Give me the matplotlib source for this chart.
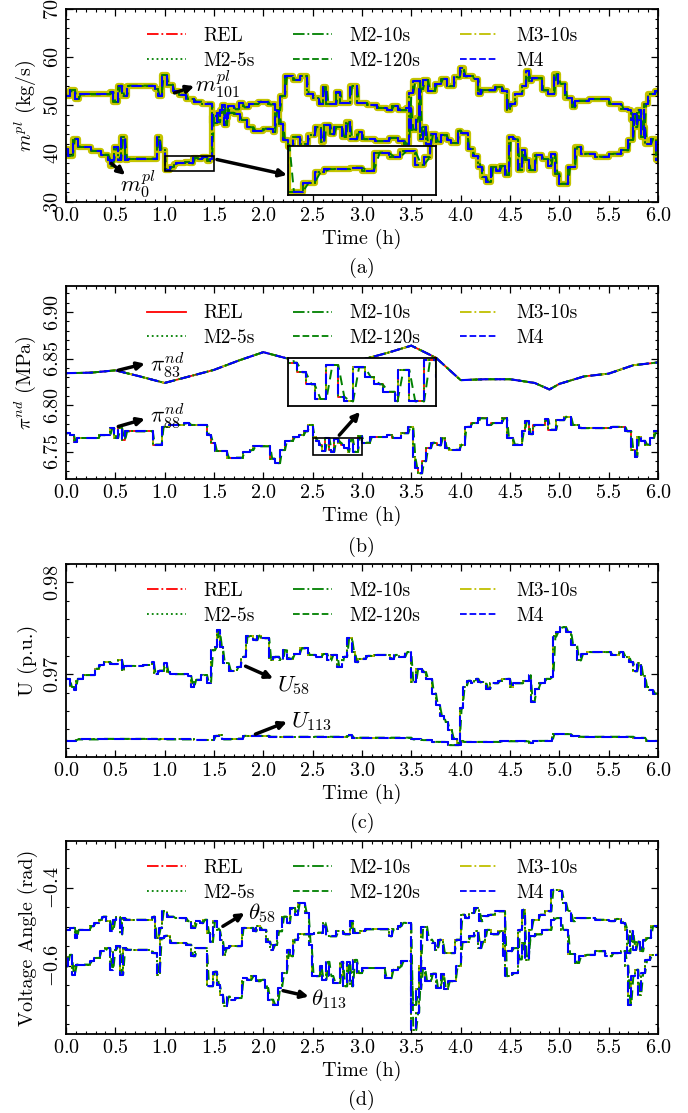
import numpy as np
import matplotlib
matplotlib.use('Agg')
import matplotlib.pyplot as plt
from matplotlib.lines import Line2D
from matplotlib.patches import Rectangle
from matplotlib.ticker import MultipleLocator

plt.rcParams['font.family'] = 'cmr10'
plt.rcParams['mathtext.fontset'] = 'cm'
plt.rcParams['axes.formatter.use_mathtext'] = True
plt.rcParams['axes.unicode_minus'] = True
plt.rcParams['font.size'] = 14.5

FS = 14.5   # axis text
FL = 14     # legend
FA = 16.5   # curve tags

# ---- data: (time h, value) breakpoints ----
m101 = [(0, 52.0), (0.04, 53.2), (0.09, 51.4), (0.13, 52.3), (0.45, 52.8), (0.48, 50.7),
        (0.53, 54.1), (0.57, 52.0), (0.62, 54.1), (0.9, 53.4), (0.93, 52.0), (0.97, 56.3),
        (1.02, 54.3), (1.08, 53.0), (1.15, 52.2), (1.22, 51.3), (1.3, 50.8), (1.38, 50.4),
        (1.48, 46.3), (1.53, 48.5), (1.58, 50.0), (1.61, 47.5), (1.64, 49.8), (1.7, 49.2),
        (1.75, 50.5), (1.79, 49.6), (1.85, 50.3), (1.95, 50.8), (2.05, 50.2), (2.12, 49.0),
        (2.17, 52.0), (2.22, 56.0), (2.3, 55.3), (2.37, 56.0), (2.44, 52.4), (2.5, 51.5),
        (2.56, 50.3), (2.6, 53.8), (2.64, 50.3), (2.74, 52.8), (2.78, 50.5), (2.88, 54.0),
        (2.95, 50.5), (3.05, 50.0), (3.15, 49.5), (3.25, 49.0), (3.3, 49.8), (3.37, 49.0),
        (3.45, 49.5), (3.5, 45.0), (3.55, 47.5), (3.58, 53.5), (3.62, 55.3), (3.67, 53.0),
        (3.74, 54.5), (3.8, 55.5), (3.86, 54.0), (3.93, 55.8), (3.99, 57.8), (4.03, 56.0),
        (4.12, 55.5), (4.18, 52.4), (4.21, 53.1), (4.35, 53.8), (4.42, 53.0), (4.47, 49.0),
        (4.5, 50.3), (4.55, 52.4), (4.62, 54.0), (4.66, 57.2), (4.69, 55.0), (4.72, 55.6),
        (4.82, 53.1), (4.89, 52.4), (4.95, 56.5), (4.99, 54.5), (5.06, 51.5), (5.13, 49.6),
        (5.16, 51.0), (5.3, 51.3), (5.5, 50.3), (5.63, 49.3), (5.7, 49.0), (5.73, 47.0),
        (5.76, 45.5), (5.79, 49.0), (5.83, 43.5), (5.86, 50.3), (5.9, 52.4), (5.97, 53.0)]
m0 = [(0, 41.0), (0.02, 39.6), (0.07, 43.1), (0.12, 41.4), (0.25, 40.6), (0.35, 39.8),
      (0.43, 38.7), (0.45, 37.5), (0.47, 38.7), (0.49, 41.4), (0.53, 38.7), (0.56, 43.5),
      (0.6, 38.7), (0.63, 39.0), (0.92, 43.5), (0.95, 40.7), (1.0, 36.6), (1.05, 37.2),
      (1.09, 37.9), (1.12, 38.1), (1.21, 38.2), (1.25, 38.0), (1.29, 39.2), (1.34, 38.9),
      (1.38, 39.3), (1.43, 38.4), (1.46, 38.9), (1.48, 47.9), (1.53, 46.5), (1.56, 49.0),
      (1.6, 46.0), (1.63, 48.5), (1.7, 48.3), (1.76, 47.0), (1.83, 45.5), (1.9, 44.8),
      (2.0, 45.2), (2.1, 44.5), (2.12, 48.8), (2.16, 46.2), (2.2, 42.8), (2.25, 41.4),
      (2.3, 43.5), (2.37, 42.0), (2.45, 43.8), (2.52, 45.5), (2.58, 42.5), (2.62, 46.0),
      (2.68, 44.0), (2.72, 45.5), (2.8, 43.5), (2.84, 46.5), (2.88, 43.0), (2.95, 44.5),
      (3.0, 43.0), (3.13, 42.6), (3.27, 43.3), (3.37, 42.7), (3.43, 42.1), (3.48, 52.5),
      (3.52, 55.0), (3.59, 43.0), (3.62, 45.5), (3.65, 42.0), (3.7, 44.0), (3.75, 42.5),
      (3.8, 43.8), (3.86, 42.8), (3.9, 42.2), (3.97, 44.8), (4.0, 44.2), (4.07, 41.0),
      (4.12, 39.5), (4.18, 37.3), (4.22, 35.2), (4.26, 34.2), (4.31, 37.3), (4.36, 36.5),
      (4.4, 37.5), (4.45, 35.6), (4.49, 43.5), (4.53, 43.0), (4.58, 36.6), (4.62, 40.7),
      (4.65, 38.7), (4.69, 36.6), (4.75, 39.8), (4.82, 38.9), (4.89, 37.5), (4.92, 40.0),
      (4.96, 35.9), (5.0, 33.8), (5.09, 37.3), (5.16, 41.4), (5.22, 40.0), (5.36, 39.4),
      (5.5, 40.0), (5.63, 40.7), (5.7, 42.8), (5.75, 48.3), (5.8, 47.0), (5.83, 45.5),
      (5.87, 42.0), (5.93, 43.0), (5.98, 38.7)]

pi83 = [(0, 6.8345), (0.25, 6.835), (0.5, 6.8375), (0.75, 6.831), (1.0, 6.824), (1.25, 6.831),
        (1.5, 6.838), (1.75, 6.848), (2.0, 6.857), (2.25, 6.850), (2.5, 6.846), (2.75, 6.845),
        (3.0, 6.849), (3.25, 6.856), (3.5, 6.864), (3.75, 6.851), (4.0, 6.827), (4.25, 6.828),
        (4.5, 6.828), (4.75, 6.824), (4.9, 6.817), (5.0, 6.823), (5.25, 6.831), (5.5, 6.834),
        (5.75, 6.843), (6.0, 6.846)]
pi88 = [(0, 6.770), (0.04, 6.768), (0.08, 6.761), (0.11, 6.765), (0.33, 6.768), (0.45, 6.7755),
        (0.49, 6.765), (0.53, 6.7755), (0.57, 6.763), (0.6, 6.772), (0.88, 6.758), (0.97, 6.777),
        (1.04, 6.779), (1.2, 6.781), (1.25, 6.779), (1.43, 6.768), (1.47, 6.760), (1.51, 6.751),
        (1.63, 6.744), (1.79, 6.750), (1.86, 6.752), (1.9, 6.756), (2.07, 6.743), (2.12, 6.738),
        (2.17, 6.752), (2.22, 6.762), (2.3, 6.766), (2.36, 6.768), (2.41, 6.772), (2.45, 6.779),
        (2.5, 6.766), (2.53, 6.762), (2.56, 6.757), (2.59, 6.751), (2.63, 6.765), (2.67, 6.752),
        (2.69, 6.750), (2.72, 6.764), (2.76, 6.760), (2.79, 6.757), (2.82, 6.754), (2.86, 6.750),
        (2.87, 6.763), (2.91, 6.750), (2.96, 6.767), (3.0, 6.760), (3.08, 6.766), (3.25, 6.768),
        (3.3, 6.765), (3.4, 6.770), (3.47, 6.777), (3.52, 6.745), (3.54, 6.733), (3.57, 6.727),
        (3.61, 6.740), (3.65, 6.754), (3.7, 6.760), (3.76, 6.757), (3.8, 6.765), (3.84, 6.754),
        (3.88, 6.7525), (3.99, 6.758), (4.04, 6.777), (4.1, 6.781), (4.18, 6.786), (4.27, 6.779),
        (4.31, 6.781), (4.42, 6.786), (4.47, 6.765), (4.53, 6.758), (4.62, 6.772), (4.65, 6.783),
        (4.69, 6.769), (4.73, 6.779), (4.85, 6.785), (4.89, 6.774), (4.97, 6.784), (5.05, 6.788),
        (5.12, 6.779), (5.2, 6.7755), (5.52, 6.777), (5.67, 6.772), (5.73, 6.752), (5.77, 6.745),
        (5.79, 6.766), (5.83, 6.762), (5.87, 6.758), (5.92, 6.765), (5.96, 6.772)]

u58 = [(0, 0.9695), (0.04, 0.9686), (0.08, 0.9683), (0.1, 0.9695), (0.17, 0.9699), (0.29, 0.9706),
       (0.33, 0.9710), (0.39, 0.9713), (0.45, 0.9711), (0.53, 0.9715), (0.57, 0.9704), (0.59, 0.9709),
       (0.78, 0.9710), (0.87, 0.9713), (0.89, 0.9700), (0.93, 0.9704), (0.99, 0.9712), (1.02, 0.9702),
       (1.05, 0.9700), (1.24, 0.9698), (1.27, 0.9686), (1.3, 0.9694), (1.37, 0.9699), (1.43, 0.9690),
       (1.47, 0.9726), (1.51, 0.9730), (1.53, 0.9748), (1.56, 0.9730), (1.59, 0.9712), (1.65, 0.9704),
       (1.73, 0.9708), (1.77, 0.9719), (1.82, 0.9741), (1.9, 0.9737), (1.94, 0.9742), (1.98, 0.9739),
       (2.06, 0.9715), (2.1, 0.9719), (2.16, 0.9715), (2.2, 0.9726), (2.24, 0.9717), (2.3, 0.9722),
       (2.37, 0.9728), (2.45, 0.9721), (2.53, 0.9719), (2.59, 0.9722), (2.65, 0.9715), (2.69, 0.9721),
       (2.75, 0.9708), (2.8, 0.9719), (2.85, 0.9739), (2.9, 0.9724), (2.93, 0.9713), (2.96, 0.9717),
       (3.04, 0.9720), (3.12, 0.9721), (3.28, 0.9717), (3.32, 0.9721), (3.38, 0.9719), (3.44, 0.9724),
       (3.5, 0.9692), (3.55, 0.9706), (3.61, 0.9702), (3.65, 0.9695), (3.71, 0.9679), (3.75, 0.9666),
       (3.79, 0.9655), (3.83, 0.9648), (3.87, 0.9639), (3.91, 0.9630), (3.96, 0.9625), (3.99, 0.9663),
       (4.02, 0.9686), (4.06, 0.9693), (4.1, 0.9690), (4.14, 0.9695), (4.18, 0.9691), (4.26, 0.9684),
       (4.3, 0.9690), (4.38, 0.9693), (4.42, 0.9695), (4.5, 0.9686), (4.53, 0.9690), (4.63, 0.9693),
       (4.69, 0.9699), (4.71, 0.9670), (4.75, 0.9684), (4.79, 0.9690), (4.85, 0.9695), (4.91, 0.9697),
       (4.94, 0.9741), (4.97, 0.9746), (5.01, 0.9751), (5.07, 0.9746), (5.12, 0.9732), (5.18, 0.9715),
       (5.22, 0.9722), (5.28, 0.9724), (5.52, 0.9721), (5.6, 0.9724), (5.65, 0.9719), (5.71, 0.9713),
       (5.75, 0.9703), (5.79, 0.9712), (5.83, 0.9698), (5.87, 0.9686), (5.91, 0.9683), (5.95, 0.9679)]
u113 = [(0, 0.96275), (0.1, 0.9629), (0.37, 0.96297), (0.92, 0.9629), (1.3, 0.96285), (1.5, 0.9633),
        (1.55, 0.9634), (1.58, 0.9629), (1.67, 0.9630), (1.79, 0.9633), (2.06, 0.9632), (2.85, 0.96335),
        (2.9, 0.9631), (3.5, 0.9629), (3.6, 0.96283), (3.71, 0.96264), (3.87, 0.96228), (4.0, 0.96275),
        (4.02, 0.96264), (4.4, 0.9627), (4.69, 0.96254), (4.73, 0.96275), (4.93, 0.96348),
        (5.12, 0.96326), (5.2, 0.9632), (5.75, 0.96308), (5.87, 0.96275)]

th58 = [(0, -0.508), (0.04, -0.503), (0.09, -0.529), (0.11, -0.508), (0.24, -0.499), (0.28, -0.491),
        (0.33, -0.482), (0.36, -0.474), (0.41, -0.486), (0.45, -0.512), (0.48, -0.482), (0.51, -0.474),
        (0.55, -0.52), (0.57, -0.478), (0.6, -0.482), (0.87, -0.474), (0.9, -0.529), (0.94, -0.503),
        (0.97, -0.461), (1.02, -0.474), (1.09, -0.478), (1.22, -0.486), (1.27, -0.503), (1.31, -0.486),
        (1.36, -0.491), (1.39, -0.482), (1.43, -0.516), (1.46, -0.538), (1.49, -0.486), (1.53, -0.508),
        (1.56, -0.533), (1.59, -0.572), (1.61, -0.555), (1.65, -0.55), (1.78, -0.503), (1.9, -0.512),
        (1.93, -0.499), (1.97, -0.508), (2.03, -0.538), (2.07, -0.559), (2.1, -0.546), (2.14, -0.512),
        (2.19, -0.474), (2.24, -0.491), (2.27, -0.452), (2.32, -0.469), (2.35, -0.439), (2.42, -0.465),
        (2.46, -0.546), (2.49, -0.627), (2.57, -0.60), (2.59, -0.636), (2.64, -0.59), (2.67, -0.627),
        (2.71, -0.644), (2.78, -0.59), (2.81, -0.653), (2.85, -0.59), (2.88, -0.653), (2.91, -0.585),
        (2.95, -0.619), (3.0, -0.606), (3.23, -0.632), (3.3, -0.61), (3.37, -0.602), (3.4, -0.589),
        (3.5, -0.70), (3.55, -0.66), (3.6, -0.605), (3.64, -0.64), (3.7, -0.62), (3.75, -0.657),
        (3.8, -0.62), (3.83, -0.66), (3.87, -0.64), (3.95, -0.60), (4.0, -0.54), (4.04, -0.538),
        (4.08, -0.525), (4.14, -0.512), (4.18, -0.555), (4.21, -0.538), (4.25, -0.508), (4.31, -0.52),
        (4.38, -0.512), (4.43, -0.576), (4.45, -0.563), (4.52, -0.555), (4.58, -0.584), (4.62, -0.542),
        (4.65, -0.576), (4.69, -0.525), (4.75, -0.52), (4.82, -0.508), (4.92, -0.482), (4.95, -0.478),
        (5.02, -0.508), (5.09, -0.57), (5.16, -0.593), (5.2, -0.576), (5.26, -0.572), (5.36, -0.563),
        (5.46, -0.576), (5.53, -0.568), (5.63, -0.563), (5.67, -0.60), (5.7, -0.70), (5.73, -0.627),
        (5.77, -0.61), (5.8, -0.674), (5.83, -0.619), (5.87, -0.585), (5.92, -0.572)]
th113 = [(0, -0.602), (0.02, -0.572), (0.06, -0.623), (0.09, -0.597), (0.24, -0.589), (0.28, -0.58),
         (0.34, -0.563), (0.4, -0.555), (0.45, -0.61), (0.48, -0.559), (0.51, -0.55), (0.55, -0.623),
         (0.58, -0.555), (0.61, -0.559), (0.87, -0.568), (0.92, -0.623), (0.95, -0.53), (0.99, -0.523),
         (1.05, -0.542), (1.22, -0.546), (1.27, -0.576), (1.31, -0.555), (1.43, -0.653), (1.49, -0.615),
         (1.53, -0.649), (1.56, -0.674), (1.59, -0.704), (1.63, -0.679), (1.66, -0.687), (1.71, -0.683),
         (1.78, -0.632), (1.83, -0.636), (1.88, -0.627), (1.93, -0.64), (1.97, -0.636), (2.02, -0.657),
         (2.05, -0.687), (2.1, -0.70), (2.15, -0.657), (2.19, -0.619), (2.24, -0.559), (2.27, -0.576),
         (2.3, -0.533), (2.35, -0.52), (2.51, -0.515), (2.6, -0.49), (2.63, -0.5), (2.64, -0.525),
         (2.74, -0.512), (2.81, -0.52), (2.88, -0.486), (2.91, -0.516), (2.98, -0.512), (3.03, -0.507),
         (3.27, -0.525), (3.3, -0.507), (3.37, -0.499), (3.4, -0.49), (3.5, -0.765), (3.55, -0.72),
         (3.58, -0.60), (3.6, -0.50), (3.66, -0.533), (3.71, -0.542), (3.74, -0.559), (3.77, -0.533),
         (3.82, -0.568), (3.94, -0.533), (4.0, -0.469), (4.04, -0.478), (4.08, -0.465), (4.14, -0.452),
         (4.19, -0.486), (4.22, -0.473), (4.28, -0.469), (4.35, -0.461), (4.45, -0.627), (4.52, -0.619),
         (4.58, -0.508), (4.62, -0.456), (4.65, -0.585), (4.69, -0.508), (4.72, -0.482), (4.79, -0.469),
         (4.85, -0.461), (4.92, -0.405), (5.0, -0.409), (5.03, -0.439), (5.07, -0.461), (5.12, -0.486),
         (5.16, -0.478), (5.36, -0.482), (5.5, -0.486), (5.56, -0.48), (5.63, -0.491), (5.67, -0.508),
         (5.69, -0.568), (5.72, -0.512), (5.75, -0.559), (5.78, -0.538), (5.82, -0.563), (5.85, -0.533),
         (5.88, -0.529), (5.93, -0.499)]

labels = ['REL', 'M2-5s', 'M2-10s', 'M2-120s', 'M3-10s', 'M4']
T_END = 6.0
LAG = 0.02  # 120 s sample hold shows as a short ramp


def series(pts, smooth=False):
    t = [p[0] for p in pts]
    v = [p[1] for p in pts]
    if not smooth:
        t = t + [T_END]
        v = v + [v[-1]]
    return np.array(t), np.array(v)


def lagged(t, v):
    xs, ys = [t[0]], [v[0]]
    for i in range(1, len(t)):
        nxt = t[i + 1] if i + 1 < len(t) else T_END
        xs += [t[i], min(t[i] + LAG, nxt)]
        ys += [v[i - 1], v[i]]
    return xs, ys


def draw(ax, pts, rel_ls='-.', band=False, smooth=False):
    t, v = series(pts, smooth)
    ds = 'default' if smooth else 'steps-post'
    if band:
        ax.plot(t, v, color='#c4c400', lw=4.5, drawstyle=ds, zorder=1)
    else:
        ax.plot(t, v, color='y', ls='-.', lw=1.3, drawstyle=ds, zorder=2.2)
    ax.plot(t, v, color='r', ls=rel_ls, lw=1.3, drawstyle=ds, zorder=2)
    ax.plot(t, v, color='g', ls='-.', lw=1.3, drawstyle=ds, zorder=2.1)
    ax.plot(t, v, color='g', ls=':', lw=1.3, drawstyle=ds, zorder=2.3)
    if smooth:
        ax.plot(t, v, color='g', ls=(4, (5, 3)), lw=1.4, zorder=2.4)
    else:
        xs, ys = lagged(t, v)
        ax.plot(xs, ys, color='g', ls=(4, (5, 3)), lw=1.4, zorder=2.4)
    ax.plot(t, v, color='b', ls=(0, (5, 3)), lw=1.5, drawstyle=ds, zorder=2.5)


def legend(ax, rel_ls='-.'):
    handles = [Line2D([], [], color='r', ls=rel_ls, lw=1.3),
               Line2D([], [], color='g', ls=':', lw=1.3),
               Line2D([], [], color='g', ls='-.', lw=1.3),
               Line2D([], [], color='g', ls='--', lw=1.3),
               Line2D([], [], color='y', ls='-.', lw=1.3),
               Line2D([], [], color='b', ls='--', lw=1.3)]
    ax.legend(handles, labels, ncol=3, loc='upper center', frameon=False,
              handlelength=2.0, handletextpad=0.9, columnspacing=2.0,
              labelspacing=0.35, borderaxespad=0.55, fontsize=FL)


def style(ax, ylim, major, minor, ylabel):
    ax.set_xlim(0, 6)
    ax.set_ylim(*ylim)
    ax.xaxis.set_major_locator(MultipleLocator(0.5))
    ax.xaxis.set_minor_locator(MultipleLocator(0.1))
    ax.yaxis.set_major_locator(MultipleLocator(major))
    ax.yaxis.set_minor_locator(MultipleLocator(minor))
    ax.yaxis.get_major_formatter().set_useOffset(False)
    ax.tick_params(which='both', direction='in', top=True, right=True, labelsize=FS)
    ax.tick_params(which='major', length=5, width=0.9)
    ax.tick_params(which='minor', length=2.5, width=0.8)
    ax.tick_params(axis='y', labelrotation=90, pad=3)
    for lab in ax.get_yticklabels():
        lab.set_va('center')
    for s in ax.spines.values():
        s.set_linewidth(1.3)
    ax.set_xlabel('Time (h)', fontsize=FS, labelpad=3)
    ax.set_ylabel(ylabel, fontsize=FS, labelpad=4)


def arrow(ax, tail, head):
    ax.annotate('', xy=head, xytext=tail, zorder=8,
                arrowprops=dict(arrowstyle='-|>', color='k', lw=2.5,
                                mutation_scale=11, shrinkA=0, shrinkB=0))


def inset(ax, bounds, xlim, ylim, curves, **kw):
    ins = ax.inset_axes(bounds, transform=ax.transData, zorder=6)
    ins.set_facecolor('white')
    for pts in curves:
        draw(ins, pts, **kw)
    ins.set_xlim(*xlim)
    ins.set_ylim(*ylim)
    ins.set_xticks([])
    ins.set_yticks([])
    for s in ins.spines.values():
        s.set_linewidth(1.3)
    return ins


fig = plt.figure(figsize=(6.88, 11.13), dpi=100)
L, W, H = 0.0959, 0.8605, 0.1735
axa = fig.add_axes([L, 0.8185, W, H])
axb = fig.add_axes([L, 0.5696, W, H])
axc = fig.add_axes([L, 0.3199, W, H])
axd = fig.add_axes([L, 0.0710, W, H])

# (a) pipeline mass flow
for pts in (m101, m0):
    draw(axa, pts, band=True)
style(axa, (30, 70), 10, 2, r'$m^{pl}$ (kg/s)')
legend(axa)
axa.add_patch(Rectangle((1.0, 36.5), 0.5, 3.0, fill=False, ec='k', lw=1.2, zorder=7))
inset(axa, [2.25, 31.5, 1.5, 10.0], (1.0, 1.5), (36.4, 39.6), [m0, m101], band=True)
arrow(axa, (1.53, 38.8), (2.24, 35.6))
arrow(axa, (1.1, 52.6), (1.3, 54.0))
axa.text(1.31, 54.4, r'$m_{101}^{pl}$', fontsize=FA, va='center', zorder=8)
arrow(axa, (0.46, 38.0), (0.6, 35.6))
axa.text(0.55, 33.6, r'$m_{0}^{pl}$', fontsize=FA, va='center', zorder=8)

# (b) nodal pressure
draw(axb, pi83, rel_ls='-', smooth=True)
draw(axb, pi88, rel_ls='-')
style(axb, (6.721, 6.928), 0.05, 0.01, r'$\pi^{nd}$ (MPa)')
legend(axb, rel_ls='-')
axb.add_patch(Rectangle((2.5, 6.747), 0.5, 0.018, fill=False, ec='k', lw=1.2, zorder=7))
inset(axb, [2.25, 6.799, 1.5, 0.052], (2.5, 3.0), (6.748, 6.768), [pi88], rel_ls='-')
arrow(axb, (2.77, 6.768), (2.98, 6.793))
arrow(axb, (0.53, 6.8376), (0.80, 6.8447))
axb.text(0.85, 6.8436, r'$\pi_{83}^{nd}$', fontsize=FA, va='center', zorder=8)
arrow(axb, (0.53, 6.7773), (0.80, 6.7855))
axb.text(0.85, 6.788, r'$\pi_{88}^{nd}$', fontsize=FA, va='center', zorder=8)

# (c) voltage magnitude
for pts in (u58, u113):
    draw(axc, pts)
style(axc, (0.961, 0.982), 0.01, 0.002, 'U (p.u.)')
legend(axc)
arrow(axc, (1.82, 0.97087), (2.1, 0.96953))
axc.text(2.14, 0.9688, r'$U_{58}$', fontsize=FA, va='center', zorder=8)
arrow(axc, (1.92, 0.96348), (2.24, 0.96482))
axc.text(2.28, 0.9648, r'$U_{113}$', fontsize=FA, va='center', zorder=8)

# (d) voltage angle
for pts in (th58, th113):
    draw(axd, pts)
style(axd, (-0.775, -0.28), 0.2, 0.05, 'Voltage Angle (rad)')
legend(axd)
arrow(axd, (1.59, -0.499), (1.81, -0.465))
axd.text(1.84, -0.465, r'$\theta_{58}$', fontsize=FA, va='center', zorder=8)
arrow(axd, (2.2, -0.664), (2.46, -0.679))
axd.text(2.48, -0.685, r'$\theta_{113}$', fontsize=FA, va='center', zorder=8)

for y, tag in [(268, '(a)'), (547, '(b)'), (823, '(c)'), (1100, '(d)')]:
    fig.text(0.526, 1 - y / 1113, tag, ha='center', va='center', fontsize=FS)

fig.savefig('out.png', dpi=100)
